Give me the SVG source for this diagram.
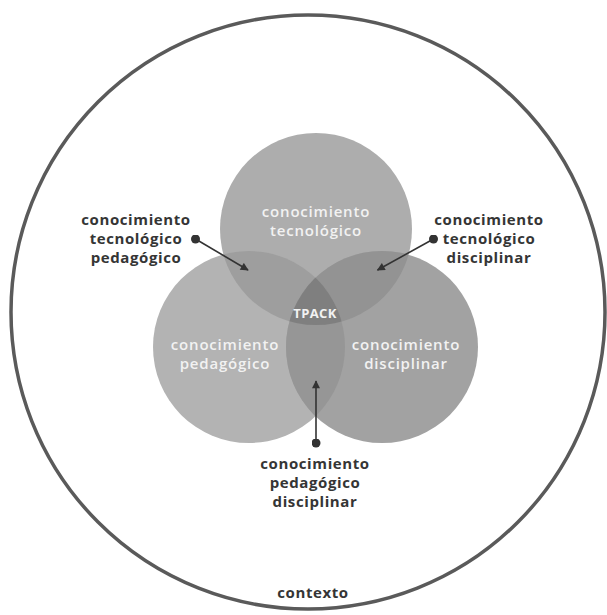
<svg xmlns="http://www.w3.org/2000/svg" width="607" height="615" viewBox="0 0 607 615">
<style>
.inner{font-family:"Open Sans","Noto Sans",sans-serif;font-weight:600;font-size:15px;fill:#f2f2f2;text-anchor:middle;letter-spacing:0.8px}
.outer{font-family:"Open Sans","Noto Sans",sans-serif;font-weight:700;font-size:15px;fill:#353535;text-anchor:middle;letter-spacing:0.6px}
.conn{stroke:#333;stroke-width:1.6;fill:none;marker-start:url(#dot);marker-end:url(#arr)}
</style>
<defs>
<marker id="dot" viewBox="0 0 10 10" refX="5" refY="5" markerWidth="9" markerHeight="9" markerUnits="userSpaceOnUse"><circle cx="5" cy="5" r="5" fill="#333"/></marker>
<marker id="arr" viewBox="0 0 10 10" refX="9" refY="5" markerWidth="9" markerHeight="8" markerUnits="userSpaceOnUse" orient="auto"><path d="M0,0 L10,5 L0,10 Z" fill="#333"/></marker>
<clipPath id="cT"><circle cx="316" cy="229" r="96"/></clipPath>
<clipPath id="cL"><circle cx="249" cy="347" r="96"/></clipPath>
<clipPath id="cR"><circle cx="382" cy="347" r="96"/></clipPath>
</defs>
<g id="contexto">
<circle cx="308" cy="312" r="297" fill="none" stroke="#5a5a5a" stroke-width="3.5"/>
<text class="outer" x="313" y="598">contexto</text>
</g>
<g id="circles">
<circle id="c-tec" cx="316" cy="229" r="96" fill="#adadad"/>
<circle id="c-ped" cx="249" cy="347" r="96" fill="#b3b3b3"/>
<circle id="c-dis" cx="382" cy="347" r="96" fill="#a2a2a2"/>
<circle cx="249" cy="347" r="96" fill="#9e9e9e" clip-path="url(#cT)"/>
<circle cx="382" cy="347" r="96" fill="#939393" clip-path="url(#cT)"/>
<circle cx="382" cy="347" r="96" fill="#969696" clip-path="url(#cL)"/>
<g clip-path="url(#cT)"><circle cx="382" cy="347" r="96" fill="#7f7f7f" clip-path="url(#cL)"/></g>
</g>
<g id="tecnologico">
<text class="inner" x="316" y="217">conocimiento</text>
<text class="inner" x="316" y="236">tecnológico</text>
</g>
<g id="pedagogico">
<text class="inner" x="225" y="350">conocimiento</text>
<text class="inner" x="225" y="369">pedagógico</text>
</g>
<g id="disciplinar">
<text class="inner" x="406" y="350">conocimiento</text>
<text class="inner" x="406" y="369">disciplinar</text>
</g>
<g id="tpack">
<text class="inner" x="315" y="318" style="font-size:13px;font-weight:700;letter-spacing:0.4px">TPACK</text>
</g>
<g id="tec-ped">
<text class="outer" x="136" y="225">conocimiento</text>
<text class="outer" x="136" y="244">tecnológico</text>
<text class="outer" x="136" y="263">pedagógico</text>
</g>
<g id="tec-dis">
<text class="outer" x="489" y="225">conocimiento</text>
<text class="outer" x="489" y="244">tecnológico</text>
<text class="outer" x="489" y="263">disciplinar</text>
</g>
<g id="ped-dis">
<text class="outer" x="315" y="469">conocimiento</text>
<text class="outer" x="315" y="488">pedagógico</text>
<text class="outer" x="315" y="507">disciplinar</text>
</g>
<g id="connectors">
<path class="conn" d="M195.5,239 L248,270"/>
<path class="conn" d="M433.5,239 L377.5,270"/>
<path class="conn" d="M316,443 L316,381"/>
</g>
</svg>
